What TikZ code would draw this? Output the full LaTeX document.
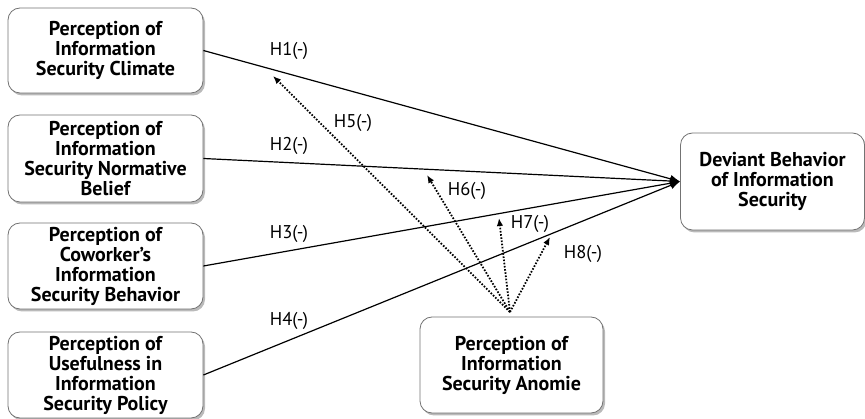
\documentclass[tikz,border=0pt]{standalone}
\usepackage{fontspec}
\setmainfont{PT Sans}
\usetikzlibrary{shadows,positioning,arrows.meta}

\begin{document}
\begin{tikzpicture}[
    x=1pt, y=-1pt,
    inner sep=2pt, %text kept inside the boxes
    box/.style={rectangle,rounded corners=12pt,draw=black!55,thick,
        fill=white,align=center,font=\fontsize{20}{20}\selectfont\bfseries,
        drop shadow={shadow xshift=2pt,shadow yshift=-2.5pt,
            opacity=0.45,fill=black!60}},
    hyp/.style={font=\fontsize{18.5}{20}\selectfont},
    path/.style={line width=1.2pt,black,-{Latex[length=10pt,width=8pt]}},
    mod/.style={line width=1.8pt,black,dash pattern=on 1.6pt off 1.6pt,
        -{Latex[length=8pt,width=6.5pt]}},
    ]
    \useasboundingbox (0,0) rectangle (865,419);
    \node[box,minimum width=195,minimum height=85] (clim) at (105.5,50.5)
        {Perception of\\Information\\Security Climate};
    \node[box,minimum width=195,minimum height=87] (norm) at (105.5,158.5)
        {Perception of\\Information\\Security Normative\\Belief};
    \node[box,minimum width=195,minimum height=86] (cowk) at (105.5,266)
        {Perception of\\Coworker's\\Information\\Security Behavior};
    \node[box,minimum width=195,minimum height=86] (poli) at (105.5,375)
        {Perception of\\Usefulness in\\Information\\Security Policy};
    \node[box,minimum width=184,minimum height=97] (dev) at (772.5,181.5)
        {Deviant Behavior\\of Information\\Security};
    \node[box,minimum width=183,minimum height=96] (anom) at (511.5,365)
        {Perception of\\Information\\Security Anomie};

    \draw[path] (clim.east) -- (dev.west);
    \draw[path] (norm.east) -- (dev.west);
    \draw[path] (cowk.east) -- (dev.west);
    \draw[path] (poli.east) -- (dev.west);

    \coordinate (src) at (510,312);
    \coordinate (t5) at (273,76);
    \coordinate (t6) at (427,175);
    \coordinate (t7) at (499,218);
    \coordinate (t8) at (550,237);
    \draw[mod] (src) -- (t5);
    \draw[mod] (src) -- (t6);
    \draw[mod] (src) -- (t7);
    \draw[mod] (src) -- (t8);

    \node[hyp] (h1) at (289,51) {H1(-)};
    \node[hyp] (h2) at (289,146) {H2(-)};
    \node[hyp] (h3) at (289,234) {H3(-)};
    \node[hyp] (h4) at (289,321) {H4(-)};
    \node[hyp] (h5) at (353,123) {H5(-)};
    \node[hyp] (h6) at (467,191) {H6(-)};
    \node[hyp] (h7) at (530,224) {H7(-)};
    \node[hyp] (h8) at (583,254) {H8(-)};
\end{tikzpicture}
\end{document}
